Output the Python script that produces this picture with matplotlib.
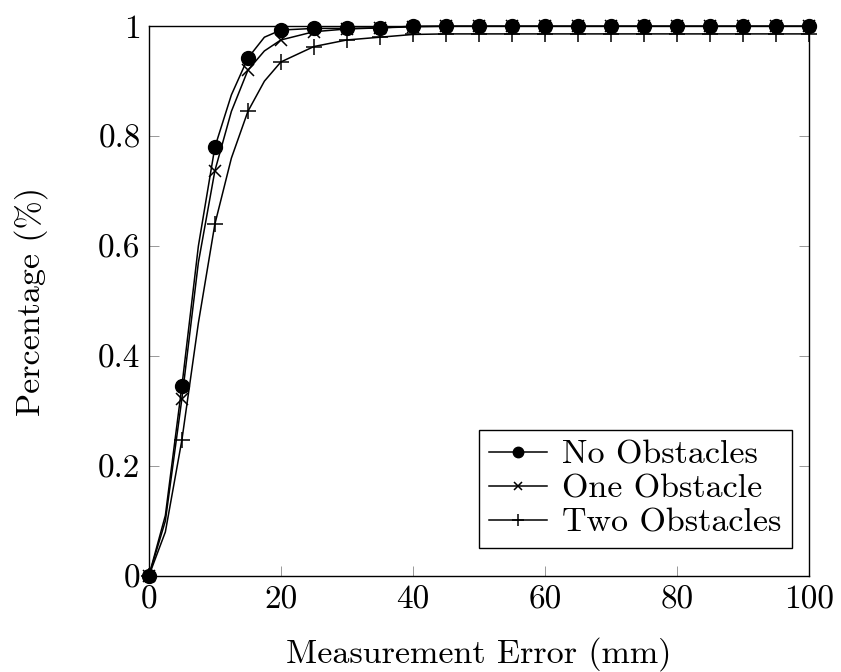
import matplotlib
matplotlib.use("Agg")
import matplotlib.pyplot as plt

plt.rcParams['font.family'] = 'serif'
plt.rcParams['font.serif'] = ['cmr10', 'DejaVu Serif']
plt.rcParams['mathtext.fontset'] = 'cm'
plt.rcParams['axes.formatter.use_mathtext'] = True

x = [0, 2.5, 5, 7.5, 10, 12.5, 15, 17.5, 20, 25, 30, 35, 40, 45, 50, 55, 60,
     65, 70, 75, 80, 85, 90, 95, 100]
no_obstacles = [0, 0.11, 0.345, 0.60, 0.78, 0.875, 0.942, 0.98, 0.993, 0.996, 0.996,
                0.997, 1.0, 1.0, 1.0, 1.0, 1.0, 1.0, 1.0, 1.0, 1.0, 1.0, 1.0, 1.0, 1.0]
one_obstacle = [0, 0.10, 0.322, 0.57, 0.737, 0.845, 0.92, 0.955, 0.975, 0.99, 0.995,
                0.997, 0.999, 1.0, 1.0, 1.0, 1.0, 1.0, 1.0, 1.0, 1.0, 1.0, 1.0, 1.0, 1.0]
two_obstacles = [0, 0.08, 0.247, 0.46, 0.64, 0.76, 0.845, 0.90, 0.935, 0.963, 0.975,
                 0.98, 0.985, 0.986, 0.986, 0.986, 0.986, 0.986, 0.986, 0.986, 0.986,
                 0.986, 0.986, 0.986, 0.986]
labels = ['No Obstacles', 'One Obstacle', 'Two Obstacles']
xticks = [0, 20, 40, 60, 80, 100]
yticks = [0, 0.2, 0.4, 0.6, 0.8, 1.0]
yticklabels = ['0', '0.2', '0.4', '0.6', '0.8', '1']

marks = [i for i, v in enumerate(x) if v % 5 == 0]

fig = plt.figure(figsize=(8.41, 6.72), dpi=100)
ax = fig.add_axes([0.177, 0.143, 0.785, 0.818])

lw = 1.1
ax.plot(x, two_obstacles, color='black', lw=lw, marker='+', markersize=11,
        markeredgewidth=1.1, markevery=marks, label=labels[2], zorder=3,
        clip_on=False)
ax.plot(x, one_obstacle, color='black', lw=lw, marker='x', markersize=8,
        markeredgewidth=1.1, markevery=marks, label=labels[1], zorder=4,
        clip_on=False)
ax.plot(x, no_obstacles, color='black', lw=lw, marker='o', markersize=10,
        markevery=marks, label=labels[0], zorder=5, clip_on=False)

ax.set_xlim(0, 100)
ax.set_ylim(0, 1)
ax.set_xticks(xticks)
ax.set_xticklabels([str(t) for t in xticks])
ax.set_yticks(yticks)
ax.set_yticklabels(yticklabels)
ax.tick_params(direction='in', length=7, width=0.6, color='#888888',
               top=True, right=True, labelsize=24)
ax.tick_params(axis='x', pad=7)
ax.tick_params(axis='y', pad=6)
for s in ax.spines.values():
    s.set_linewidth(1.0)

ax.set_xlabel('Measurement Error (mm)', fontsize=24.5, labelpad=16)
ax.set_ylabel('Percentage (%)', fontsize=24.5, labelpad=36)

h, l = ax.get_legend_handles_labels()
leg = ax.legend(h[::-1], l[::-1], loc='lower right', bbox_to_anchor=(0.974, 0.051),
                fontsize=24.5, frameon=True,
                fancybox=False, edgecolor='black', framealpha=1,
                borderaxespad=0.0, handlelength=1.7, handletextpad=0.45,
                labelspacing=0.12, borderpad=0.3, markerscale=0.75)
leg.get_frame().set_linewidth(1.0)
leg.set_zorder(10)

fig.savefig('out.png', dpi=100)
